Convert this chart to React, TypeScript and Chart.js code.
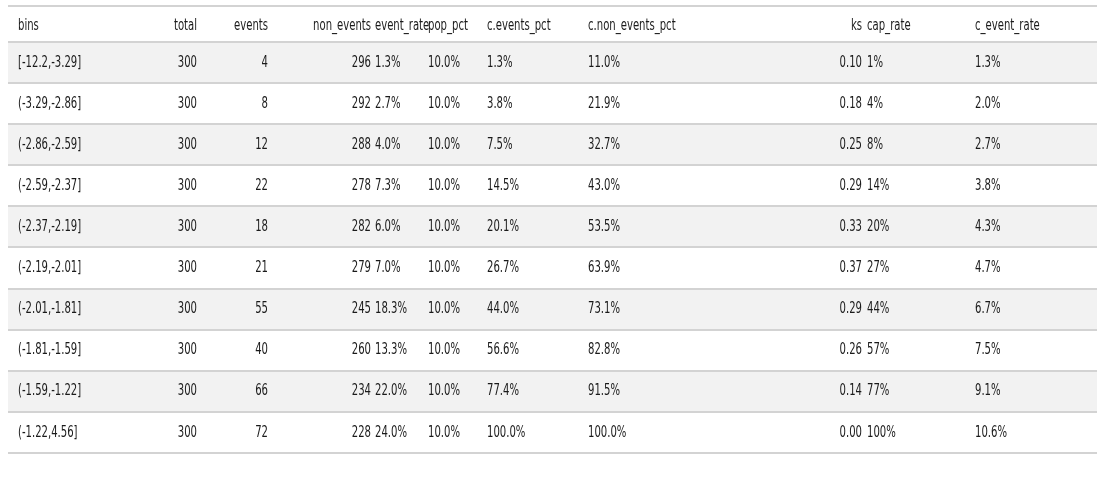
import { useEffect, useRef } from 'react'
import { Chart, registerables } from 'chart.js'

Chart.register(...registerables)

const headers = ['bins', 'total', 'events', 'non_events', 'event_rate', 'pop_pct', 'c.events_pct', 'c.non_events_pct', 'ks', 'cap_rate', 'c_event_rate']
const bins = ['[-12.2,-3.29]', '(-3.29,-2.86]', '(-2.86,-2.59]', '(-2.59,-2.37]', '(-2.37,-2.19]', '(-2.19,-2.01]', '(-2.01,-1.81]', '(-1.81,-1.59]', '(-1.59,-1.22]', '(-1.22,4.56]']
const total = [300, 300, 300, 300, 300, 300, 300, 300, 300, 300]
const events = [4, 8, 12, 22, 18, 21, 55, 40, 66, 72]
const nonEvents = [296, 292, 288, 278, 282, 279, 245, 260, 234, 228]
const eventRate = ['1.3%', '2.7%', '4.0%', '7.3%', '6.0%', '7.0%', '18.3%', '13.3%', '22.0%', '24.0%']
const popPct = ['10.0%', '10.0%', '10.0%', '10.0%', '10.0%', '10.0%', '10.0%', '10.0%', '10.0%', '10.0%']
const cEventsPct = ['1.3%', '3.8%', '7.5%', '14.5%', '20.1%', '26.7%', '44.0%', '56.6%', '77.4%', '100.0%']
const cNonEventsPct = ['11.0%', '21.9%', '32.7%', '43.0%', '53.5%', '63.9%', '73.1%', '82.8%', '91.5%', '100.0%']
const ks = ['0.10', '0.18', '0.25', '0.29', '0.33', '0.37', '0.29', '0.26', '0.14', '0.00']
const capRate = ['1%', '4%', '8%', '14%', '20%', '27%', '44%', '57%', '77%', '100%']
const cEventRate = ['1.3%', '2.0%', '2.7%', '3.8%', '4.3%', '4.7%', '6.7%', '7.5%', '9.1%', '10.6%']

const columns = [bins, total, events, nonEvents, eventRate, popPct, cEventsPct, cNonEventsPct, ks, capRate, cEventRate]
// column anchor (x scale units) and alignment
const colX = [10, 189, 260, 363, 367, 420, 479, 580, 854, 859, 967]
const colAlign: CanvasTextAlign[] = ['left', 'right', 'right', 'right', 'left', 'left', 'left', 'left', 'right', 'left', 'left']

const HEADER_H = 0.9
const FONT = '16px "Liberation Sans Narrow", "DejaVu Sans Condensed", sans-serif'
const SQUEEZE = 0.7

function drawText(ctx: CanvasRenderingContext2D, text: string, px: number, py: number) {
  ctx.save()
  ctx.translate(px, py)
  ctx.scale(SQUEEZE, 1)
  ctx.fillText(text, 0, 0)
  ctx.restore()
}

const tablePlugin = {
  id: 'table',
  beforeDatasetsDraw(chart: Chart) {
    const { ctx } = chart
    const x = chart.scales.x
    const y = chart.scales.y
    const left = x.getPixelForValue(0)
    const right = x.getPixelForValue(1089)
    ctx.save()
    // striped rows
    ctx.fillStyle = '#f2f2f2'
    bins.forEach((_, i) => {
      if (i % 2 === 0) {
        const top = y.getPixelForValue(HEADER_H + i)
        const bottom = y.getPixelForValue(HEADER_H + i + 1)
        ctx.fillRect(left, top, right - left, bottom - top)
      }
    })
    // rules
    ctx.strokeStyle = '#d3d3d3'
    ctx.lineWidth = 2
    const rules = [0, ...bins.map((_, i) => HEADER_H + i), HEADER_H + bins.length]
    rules.forEach(v => {
      const py = Math.round(y.getPixelForValue(v)) + (v === 0 ? 1 : 0)
      ctx.beginPath()
      ctx.moveTo(left, py)
      ctx.lineTo(right, py)
      ctx.stroke()
    })
    // text
    ctx.font = FONT
    ctx.fillStyle = '#1a1a1a'
    ctx.textBaseline = 'middle'
    headers.forEach((h, c) => {
      ctx.textAlign = colAlign[c]
      drawText(ctx, h, x.getPixelForValue(colX[c]), y.getPixelForValue(HEADER_H / 2 + 0.05))
    })
    columns.forEach((col, c) => {
      ctx.textAlign = colAlign[c]
      col.forEach((v, r) => {
        drawText(ctx, String(v), x.getPixelForValue(colX[c]), y.getPixelForValue(HEADER_H + r + 0.5))
      })
    })
    ctx.restore()
  }
}

export default function App() {
  const canvasRef = useRef<HTMLCanvasElement>(null)

  useEffect(() => {
    if (!canvasRef.current) return
    const chart = new Chart(canvasRef.current, {
      type: 'scatter',
      data: { datasets: [{ data: [] }] },
      options: {
        animation: false,
        responsive: true,
        maintainAspectRatio: false,
        layout: { padding: 0 },
        plugins: { legend: { display: false }, tooltip: { enabled: false } },
        scales: {
          x: { type: 'linear', display: false, min: 0, max: 1089 },
          y: { type: 'linear', display: false, min: 0, max: HEADER_H + bins.length + 0.05, reverse: true }
        }
      },
      plugins: [tablePlugin]
    })
    return () => chart.destroy()
  }, [])

  return (
    <div style={{ position: 'absolute', left: 8, top: 5, width: 1089, height: 450 }}>
      <canvas ref={canvasRef}></canvas>
    </div>
  )
}
